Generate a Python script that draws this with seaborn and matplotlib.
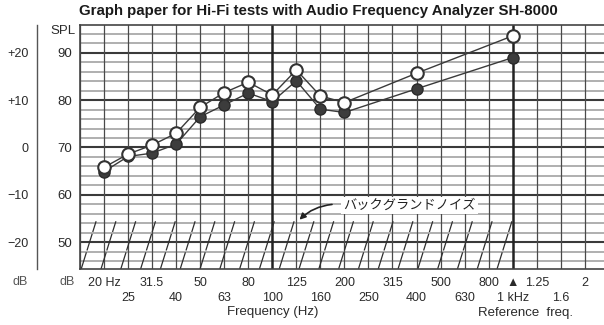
import numpy as np
import pandas as pd
import matplotlib
matplotlib.use("Agg")
import matplotlib.pyplot as plt
import seaborn as sns

# ---------------- data ----------------
bands = ['16', '20', '25', '31.5', '40', '50', '63', '80', '100', '125', '160',
         '200', '250', '315', '400', '500', '630', '800', '1k', '1.25k', '1.6k', '2k']
meas_freq = ['20', '25', '31.5', '40', '50', '63', '80', '100', '125', '160', '200', '400', '1k']
open_spl = [65.8, 68.6, 70.5, 73.0, 78.5, 81.6, 83.8, 81.1, 86.4, 80.9, 79.5, 85.7, 93.6]
filled_spl = [64.9, 68.1, 68.8, 70.7, 76.5, 79.0, 81.5, 79.7, 84.1, 78.1, 77.4, 82.4, 89.0]

row1_bands = ['20', '31.5', '50', '80', '125', '200', '315', '500', '800', '1k', '1.25k', '2k']
row1_labels = ['20 Hz', '31.5', '50', '80', '125', '200', '315', '500', '800', '\u25B2', '1.25', '2']
row2_bands = ['25', '40', '63', '100', '160', '250', '400', '630', '1k', '1.6k']
row2_labels = ['25', '40', '63', '100', '160', '250', '400', '630', '1 kHz', '1.6']

spl_ticks = [50, 60, 70, 80, 90]
spl_labels = ['50', '60', '70', '80', '90']
rel_labels = ['\u221220', '\u221210', '0', '+10', '+20']
noise_top = 54.4
noise_label = 'バックグランドノイズ'

title = 'Graph paper for Hi-Fi tests with Audio Frequency Analyzer SH-8000'


def pos(b):
    return bands.index(b) - 1


df = pd.DataFrame({'pos': [pos(f) for f in meas_freq],
                   'open': open_spl, 'filled': filled_spl})

# ---------------- style ----------------
sns.set_style('white')
plt.rcParams['font.family'] = ['Liberation Sans', 'DejaVu Sans']
ink = '#2a2a2a'

fig = plt.figure(figsize=(6.04, 3.25), dpi=100)
W, H = 604, 325
L, R, T, B = 80, 604, 25, 269
ax = fig.add_axes([L / W, 1 - B / H, (R - L) / W, (B - T) / H])
ymin, ymax = 44.3, 95.9
xmin, xmax = -1, 20.8
ax.set_xlim(xmin, xmax)
ax.set_ylim(ymin, ymax)

# grid paper
for y in np.arange(46, 96, 2):
    if y % 10 == 0:
        ax.axhline(y, color='#3a3a3a', lw=1.5, zorder=1)
    else:
        ax.axhline(y, color='#9a9a9a', lw=1.1, zorder=1)
for b in bands:
    p = pos(b)
    if b in ('100', '1k'):
        ax.axvline(p, color='#222222', lw=1.8, zorder=1.2)
    else:
        ax.axvline(p, color='#4a4a4a', lw=0.9, zorder=1.2)

for side in ['right']:
    ax.spines[side].set_visible(False)
for side in ['left', 'top', 'bottom']:
    ax.spines[side].set_color('#444444')
    ax.spines[side].set_linewidth(1.2)

# background-noise hatching
for xb in np.linspace(-0.95, 16.35, 22):
    ax.plot([xb, xb + 0.62], [ymin, noise_top], color='#2e2e2e', lw=0.9,
            dashes=(14, 1.5), solid_capstyle='round', zorder=1.5, clip_on=True)

# measured curves
sns.lineplot(data=df, x='pos', y='filled', ax=ax, color='#3a3a3a', lw=1.0,
             marker='o', markersize=8, markerfacecolor='#3c3c3c',
             markeredgecolor='#2a2a2a', markeredgewidth=1.0, zorder=3)
sns.lineplot(data=df, x='pos', y='open', ax=ax, color='#3a3a3a', lw=1.0,
             marker='o', markersize=9, markerfacecolor='white',
             markeredgecolor='#333333', markeredgewidth=1.5, zorder=4)

# annotation
ax.text(9.95, 57.8, noise_label, family=['Noto Sans CJK JP', 'DejaVu Sans'],
        fontsize=9.5, color='#222222', va='center', ha='left',
        bbox=dict(fc='white', ec='none', pad=1.5), zorder=5)
ax.annotate('', xy=(8.05, 54.3), xytext=(9.6, 58.0),
            arrowprops=dict(arrowstyle='-|>', color='#222222', lw=1.2,
                            mutation_scale=9, connectionstyle='arc3,rad=0.2'),
            zorder=5)

# x tick labels (two staggered rows)
ax.xaxis.remove_overlapping_locs = False
ax.set_xticks([pos(b) for b in row1_bands])
ax.set_xticklabels(row1_labels)
ax.set_xticks([pos(b) for b in row2_bands], minor=True)
ax.set_xticklabels(row2_labels, minor=True)
ax.tick_params(axis='x', which='major', length=0, pad=6, labelsize=9, labelcolor=ink)
ax.tick_params(axis='x', which='minor', length=0, pad=16.5, labelsize=9, labelcolor=ink)
ax.set_xlabel('')
ax.set_ylabel('')

# SPL labels
ax.set_yticks(spl_ticks)
ax.set_yticklabels(spl_labels)
ax.tick_params(axis='y', length=0, pad=6, labelsize=9.5, labelcolor=ink)

# relative dB scale on the left
ax2 = fig.add_axes([37 / W, 1 - B / H, 0.0001, (B - T) / H])
ax2.set_ylim(ymin, ymax)
ax2.set_xticks([])
for side in ['right', 'top', 'bottom']:
    ax2.spines[side].set_visible(False)
ax2.spines['left'].set_color('#555555')
ax2.spines['left'].set_linewidth(1.0)
ax2.set_yticks(spl_ticks)
ax2.set_yticklabels(rel_labels)
ax2.set_yticks(np.arange(45, 96, 1), minor=True)
ax2.tick_params(axis='y', which='major', direction='in', length=7, width=1.0,
                color='#555555', pad=6, labelsize=9, labelcolor=ink)
ax2.tick_params(axis='y', which='minor', direction='in', length=4, width=0.8,
                color='#777777')

# texts
fig.text(63 / W, 1 - 31 / H, 'SPL', fontsize=9.5, color=ink, ha='center', va='center')
fig.text(20 / W, 1 - 282 / H, 'dB', fontsize=9, color='#555555', ha='center', va='center')
fig.text(67 / W, 1 - 282 / H, 'dB', fontsize=9, color='#555555', ha='center', va='center')
fig.text(273 / W, 1 - 312 / H, 'Frequency (Hz)', fontsize=9.5, color=ink, ha='center', va='center')
fig.text(526 / W, 1 - 313 / H, 'Reference  freq.', fontsize=9.5, color=ink, ha='center', va='center')
fig.text(318 / W, 1 - 11 / H, title, fontsize=10.8, fontweight='bold', color='#1a1a1a',
         ha='center', va='center')

fig.savefig('out.png', dpi=100, facecolor='white')
